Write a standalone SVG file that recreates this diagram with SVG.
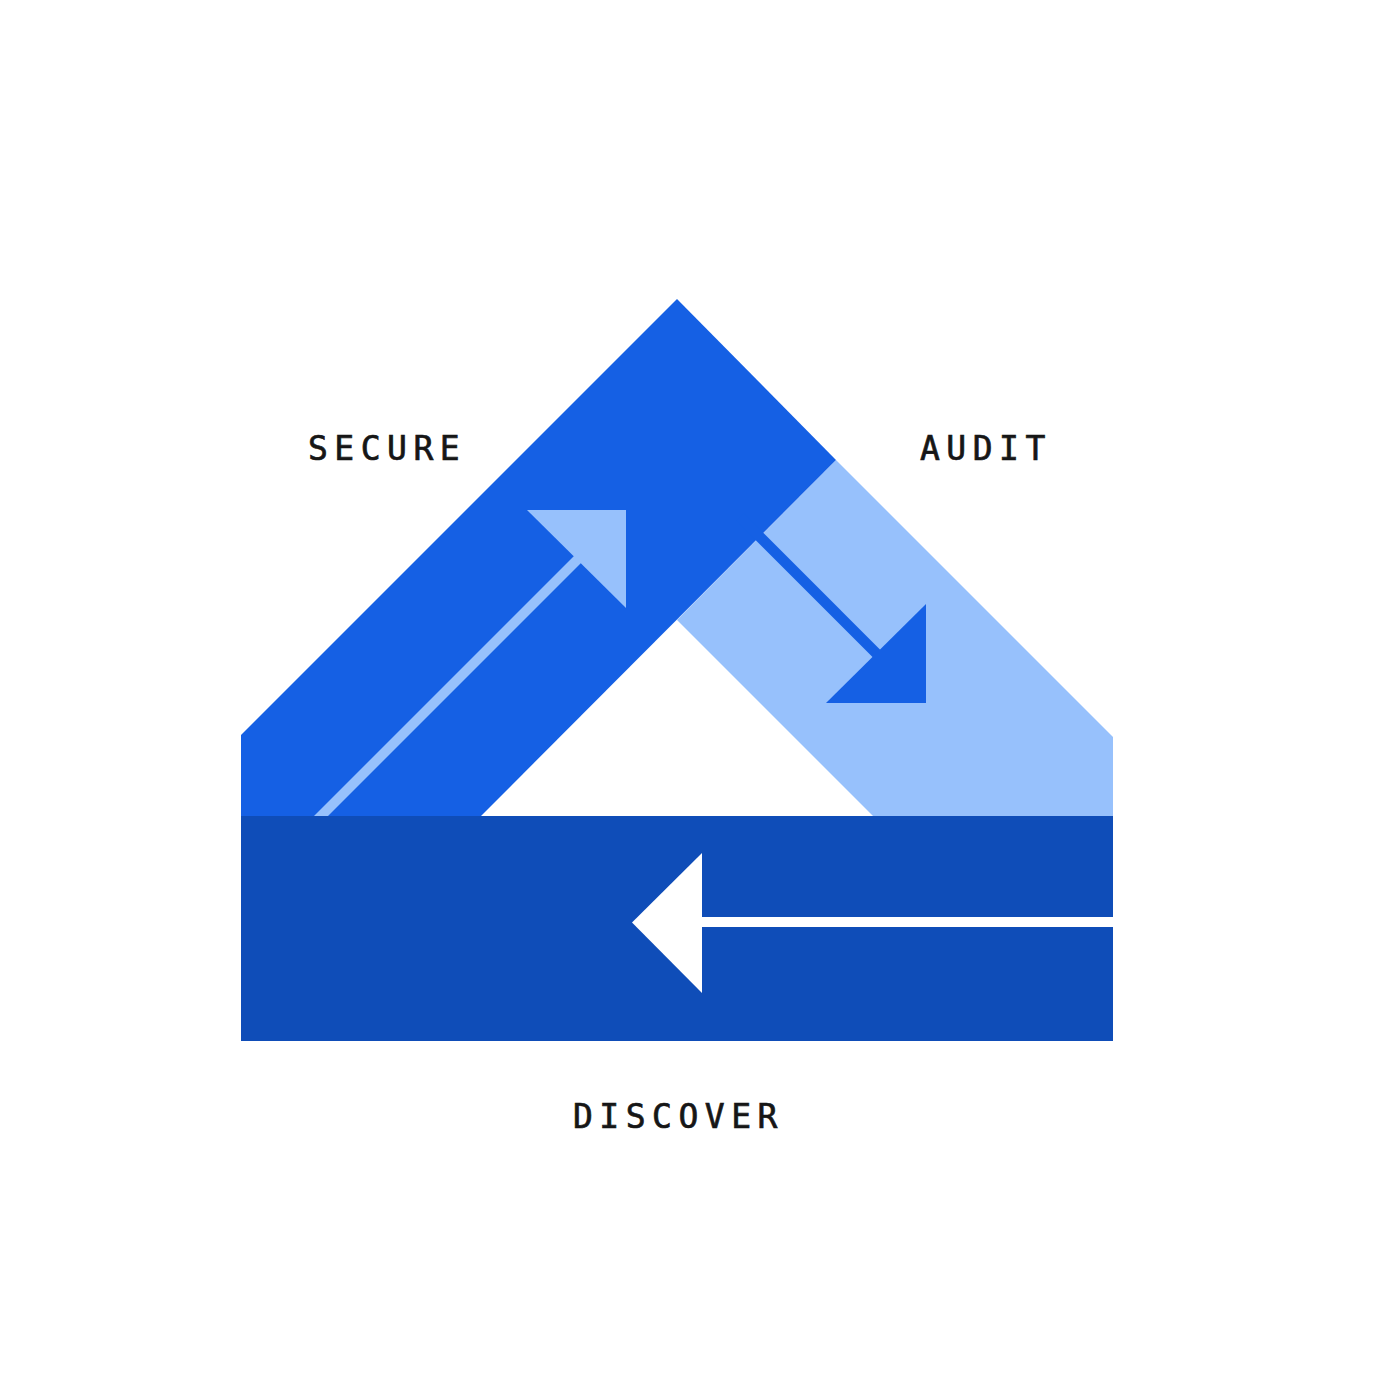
<svg xmlns="http://www.w3.org/2000/svg" width="1392" height="1392" viewBox="0 0 1392 1392">
  <style>
    .secure { fill: #1560E4; }
    .audit { fill: #97C1FC; }
    .discover { fill: #0F4DB8; }
    .lbl { font-family: "DejaVu Sans Mono", "Liberation Mono", monospace; font-size: 33px; fill: #161616; stroke: #161616; stroke-width: 0.7px; letter-spacing: 6.5px; }
  </style>
  <rect width="1392" height="1392" fill="#ffffff"/>
  <g id="audit">
    <polygon class="audit" points="836,460 1113,737 1113,816 873,816 677,620"/>
  </g>
  <g id="secure">
    <polygon class="secure" points="241,735 677,299 836,460 481,816 241,816"/>
  </g>
  <g id="discover">
    <rect class="discover" x="241" y="816" width="872" height="225"/>
  </g>
  <g id="connectors">
    <polygon fill="#97C1FC" points="314,816 328,816 590,554 576,554"/>
    <polygon fill="#97C1FC" points="527,510 626,510 626,608"/>
    <line x1="740" y1="517" x2="880" y2="657" stroke="#1560E4" stroke-width="10.5"/>
    <polygon fill="#1560E4" points="826,703 926,703 926,604"/>
    <rect x="700" y="917" width="413" height="10" fill="#ffffff"/>
    <polygon fill="#ffffff" points="632,922.5 702,853 702,993"/>
  </g>
  <g id="labels">
    <text class="lbl" x="308" y="459.5">SECURE</text>
    <text class="lbl" x="920" y="459.5">AUDIT</text>
    <text class="lbl" x="573" y="1128">DISCOVER</text>
  </g>
</svg>
